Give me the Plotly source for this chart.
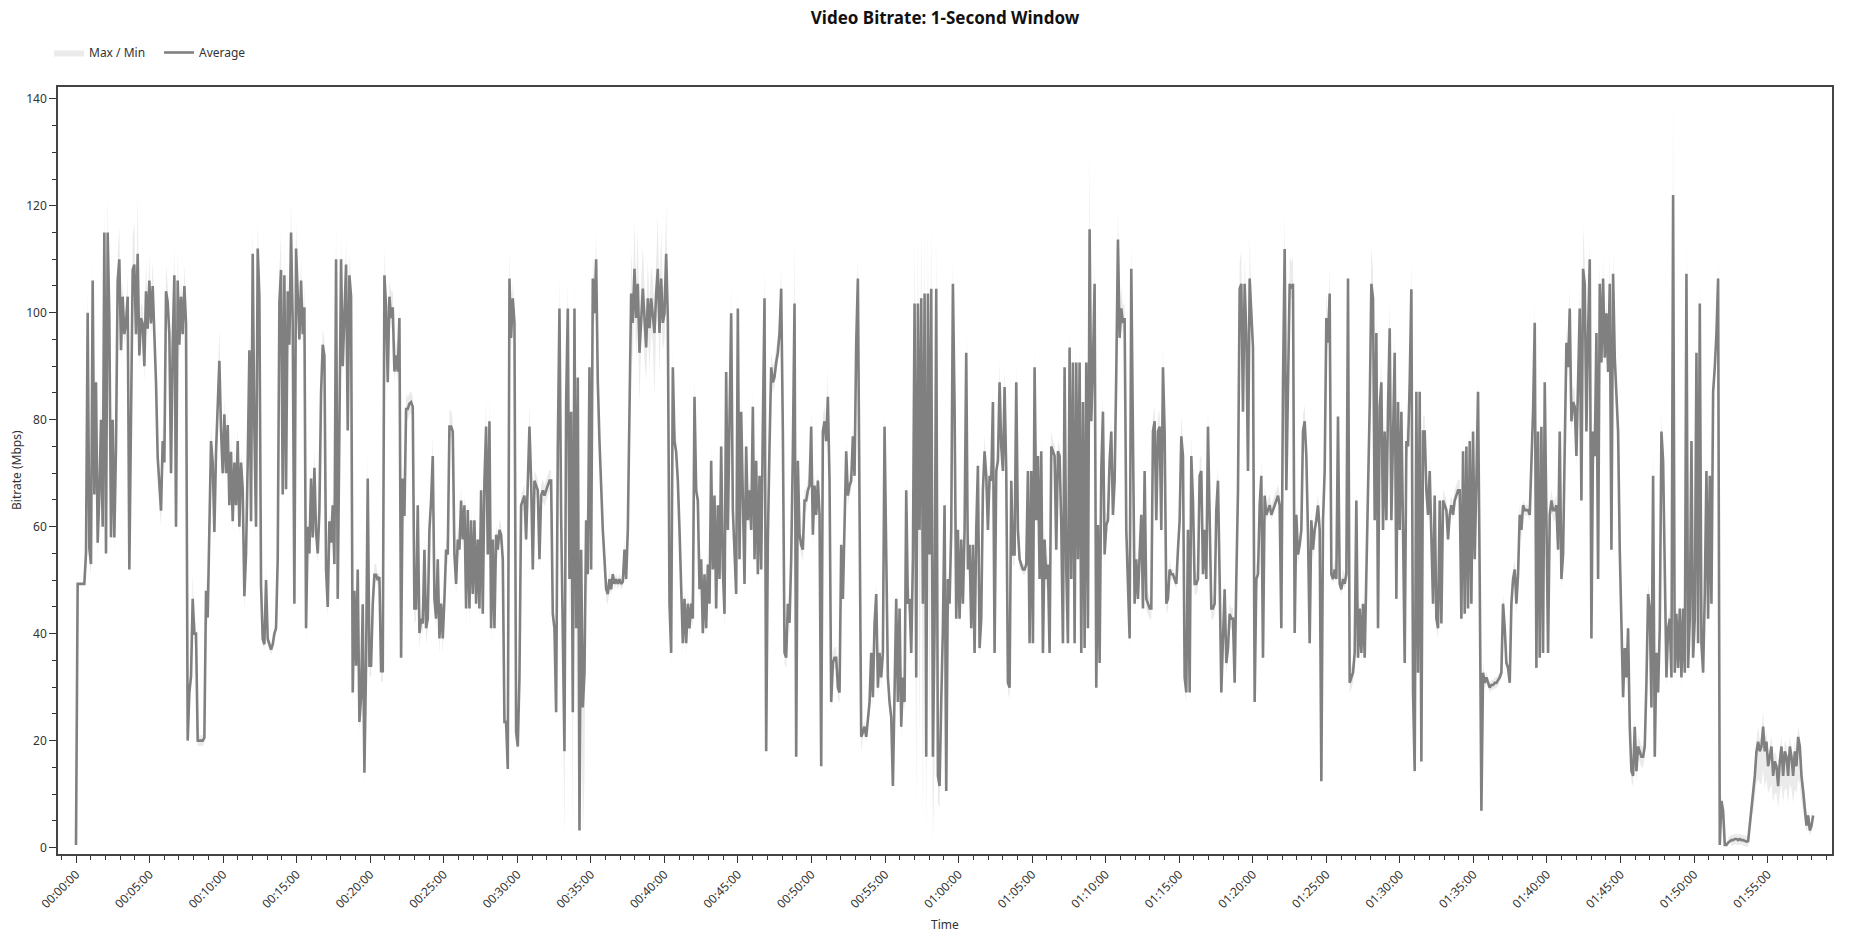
import plotly.graph_objects as go
from datetime import datetime, timedelta

# ---------------- data ----------------
SAMPLE_STEP_S = 6.8  # one reading every ~6.8 seconds

# Average bitrate in Mbps
avg_part1 = [
    0.5, 49.3, 49.3, 49.3, 49.3, 49.3, 55, 100, 56, 53,
    106, 66, 87, 57, 66, 80, 60, 115, 55, 115,
    99, 58, 80, 58, 75, 106, 110, 93, 103, 96,
    98, 103, 52, 80, 108, 109, 96, 111, 92, 99,
    98, 90, 104, 97, 106, 98, 105, 96, 87, 73,
    67, 63, 76, 72, 104, 102, 96, 70, 94, 107,
    60, 106, 94, 103, 96, 105, 98, 20, 29, 32,
    46.5, 40, 40, 20, 20, 20, 20, 20.5, 48, 43,
    57.5, 76, 72, 59, 74, 83, 91, 78, 70, 81,
    70, 79, 64, 74, 61, 72, 64, 76, 60, 72,
    67, 47, 55, 72, 93, 61, 111, 78, 60, 112,
    103, 49, 39, 38, 50, 39, 38, 37, 38, 40,
    41, 54, 102, 108, 66, 107, 67, 104, 94, 115,
    98, 45.6, 112, 103, 95, 106, 96, 101, 41, 60,
    55, 69, 58, 71, 59, 55, 63, 85, 94, 92,
    52, 45, 61, 57, 64, 53, 110, 46.5, 83, 110,
    90, 100, 109, 78, 107, 103, 29, 48, 34, 52,
    23.5, 28, 45.5, 14, 34.5, 69, 34, 34, 45.5, 51,
    51, 50, 50.6, 33, 33, 107, 101, 87, 103, 99,
    101, 89, 92, 89, 99, 35.5, 69, 62, 82, 82,
    83,
]
avg_part2 = [
    83.3, 82.4, 44.7, 44.7, 64, 40.1, 42.8, 41.9, 55.7, 41,
    42.8, 59.4, 64.9, 73.2, 46.5, 42.8, 53.9, 39.1, 45.6, 39.1,
    46.5, 55.7, 54.8, 78.7, 78.7, 77.8, 54.8, 49.3, 57.6, 55.7,
    64.9, 57.6, 64, 44.7, 63.1, 44.7, 61.2, 47.4, 61.2, 45.6,
    57.6, 44.7, 66.8, 43.7, 68.6, 78.7, 54.8, 79.7, 41, 57.6,
    41, 58.5, 55.7, 59.4, 58.5, 53.9, 23.5, 23.5, 14.7, 106.4,
    95.3, 102.7, 98.1, 21.6, 18.9, 31.8, 64, 64.9, 65.8, 57.6,
    68.6, 78.7, 68.6, 52, 68.6, 67.7, 66.8, 53.9, 65.8, 66.8,
    65.8, 66.8, 67.7, 68.6, 68.6, 43.7, 41, 25.3, 75, 100.8,
    62.2, 38.2, 18, 83.3, 100.8, 50.2, 81.5, 25.3, 100.8, 41,
    87.9, 3.2, 55.7, 26.2, 32.7, 61.2, 51.1, 89.8, 52, 106.4,
    99.9, 110, 87, 76, 66.8, 59.4, 53.9, 48.3, 47.4, 50.2,
    48.3, 51.1, 49.3, 50.2, 49.3, 50.2, 49.3, 49.7, 55.7, 50.2,
    59.4, 78.7, 103.6, 98.1, 108.2, 99, 105.4, 92.5, 99.9, 104.5,
    99, 93.5, 102.7, 97.1, 102.7, 99, 96.2, 103.6, 108.2, 96.2,
    106.4, 98.1, 99.9, 111, 99, 45.6, 36.4, 89.8, 76, 74,
    68.6, 59.4, 50.2, 38.2, 46.5, 38.2, 45.6, 41, 45.6, 42.8,
    84.3, 66.8, 64.9, 48.3, 53.9, 40.1, 51.1, 41, 52.9, 45.6,
    72.3, 52, 65.8, 44.7, 64, 50.2, 75, 52, 43.7, 88.9,
    59.4, 79.7, 99.9, 63.1, 53.9, 47.4, 100.8, 53.9, 81.5, 64.9,
    49.3, 75, 61.2, 66.8, 59.4, 82.4, 53.9, 72.3, 51.1, 69.5,
]
avg_part3 = [
    52, 79, 102.7, 18, 57.6, 75, 89.8, 87, 88, 90.7,
    92.5, 96.2, 104.5, 77.8, 36.4, 35.5, 45.6, 42, 53.9, 74.1,
    101.7, 17, 72.3, 58.5, 56.6, 55.7, 64.9, 64.9, 66.8, 67.7,
    78.7, 58.5, 67.7, 62.2, 68.6, 62.2, 15.2, 77.8, 79.7, 76,
    84.3, 68.6, 27.2, 34.5, 35.5, 35.5, 29.9, 29, 56.6, 46.5,
    63.1, 74.1, 65.8, 67.7, 68.6, 76.9, 69.5, 94.4, 106.4, 65.8,
    20.7, 21.6, 22.6, 20.7, 24.4, 27.2, 36.4, 28.1, 41.9, 47.4,
    29.9, 36.4, 31.8, 36.4, 78.7, 52, 31.8, 27.2, 24.4, 11.5,
    31.8, 46.5, 27.2, 44.7, 22.6, 31.8, 27.2, 66.8, 45.6, 46.5,
    36.4, 53.9, 101.7, 31.8, 101.7, 59.4, 102.7, 45.6, 103.6, 17,
    103.6, 54.8, 104.5, 17, 41, 104.5, 13.4, 11.5, 27.2, 41,
    64, 10.6, 50.2, 45.6, 59.4, 105.4, 82.4, 42.8, 59.4, 42.8,
    57.6, 45.6, 59.4, 92.5, 52, 56.6, 41, 56.6, 36.4, 59.4,
    71.4, 37.3, 42.8, 66.8, 74.1, 69.5, 59.4, 69.5, 68.6, 83.3,
    36.4, 70.4, 72.3, 87, 75, 70.4, 86.1, 70.4, 30.8, 29.9,
    68.6, 54.8, 54.8, 87, 59.4, 53.9, 52.9, 52, 52, 52.9,
    70.4, 38.2, 70.4, 38.2, 89.8, 61.2, 73.2, 50.2, 74.1, 36.4,
    57.6, 50.2, 52.9, 36.4, 75, 74.1, 73.2, 55.7, 74.1, 73.2,
    60.3, 38.2, 89.8, 52, 38.2, 93.5, 50.2, 90.7, 38.2, 90.7,
    53.9, 90.7, 36.4, 83.3, 37.3, 90.7, 41, 115.6, 79.7, 90.7,
    105.4, 29.9, 60.3, 34.5, 70.4, 81.5, 54.8, 60.3, 61.2, 72.3,
]
avg_part4 = [
    77.8, 62.2, 68.6, 88.9, 113.7, 95.3, 100.8, 98.1, 99, 59.4,
    50.2, 39.1, 108.2, 82.4, 45.6, 53.9, 46.5, 54.8, 62.2, 44.7,
    70.4, 46.5, 45.6, 44.7, 44.7, 77.8, 79.7, 61.2, 77.8, 78.7,
    59.4, 89.8, 77.8, 45.6, 46.5, 52, 51.1, 51.1, 50.2, 49.3,
    55.7, 61.2, 76.9, 73.2, 31.8, 29, 59.4, 29, 73.2, 64.9,
    49.3, 49.3, 50.2, 69.5, 70.4, 51.1, 59.4, 50.2, 78.7, 57.6,
    44.7, 44.7, 45.6, 63.1, 68.6, 50.2, 29, 39.1, 48.3, 34.5,
    37.3, 43.7, 42.8, 42.8, 30.8, 50.2, 66.8, 104.5, 105.4, 81.5,
    105.4, 96.2, 70.4, 106.4, 98.1, 93.5, 27.2, 50.2, 51.1, 64,
    69.5, 35.5, 65.8, 62.2, 63.1, 64, 62.2, 63.1, 64, 64.9,
    65.8, 64, 41, 87, 111.9, 66.8, 85.2, 105.4, 104.5, 105.4,
    40.1, 62.2, 54.8, 56.6, 59.4, 77.8, 79.7, 73.2, 58.5, 38.2,
    61.2, 55.7, 59.4, 61.2, 64, 59.4, 12.4, 61.2, 70.4, 99,
    94.4, 103.6, 51.1, 50.2, 52, 50.2, 80.6, 49.3, 48.3, 50.2,
    49.3, 51.1, 106.4, 30.8, 31.8, 32.7, 36.4, 64.9, 35.5, 44.7,
    36.4, 45.6, 35.5, 50.2, 67.7, 82.4, 105.4, 102.7, 61.2, 96.2,
    41, 82.4, 87, 59.4, 77.8, 61.2, 82.4, 97.1, 61.2, 78.7,
    92.5, 46.5, 83.3, 59.4, 81.5, 59.4, 34.5, 76, 75, 87,
    104.4, 29, 14.3, 85.2, 32.7, 85.2, 16.1, 77.8, 77.8, 66.8,
    62.2, 70.4, 55.7, 45.6, 65.8, 42.8, 41, 64.9, 41.9, 64.9,
    64, 63.1, 57.6, 62.2, 64, 62.2, 64.9, 65.8, 66.8, 66.8,
]
avg_part5 = [
    42.8, 74.1, 43.7, 75, 44.7, 76, 45.6, 77.8, 53.9, 68.6,
    85.2, 50.2, 6.9, 32.7, 30.8, 31.8, 30.8, 29.9, 30.4, 30.4,
    30.8, 30.8, 31.3, 31.8, 32.7, 45.6, 41, 34.5, 33.6, 30.8,
    45.6, 50.2, 52, 45.6, 51.1, 62.2, 59.4, 64, 63.1, 63.1,
    63.1, 62.2, 73.2, 81.5, 98.1, 33.6, 77.8, 35.5, 78.7, 36.4,
    87, 64, 36.4, 62.2, 64.9, 63.1, 63.1, 64, 55.7, 77.8,
    50.2, 54.8, 77.8, 94.4, 89.8, 100.8, 79.7, 83.3, 82.4, 73.2,
    87, 100.8, 64.9, 108.2, 105.4, 77.8, 96.2, 110, 39.1, 77.8,
    73.2, 96.2, 50.2, 105.4, 90.7, 106.4, 91.6, 99.9, 88.9, 105.4,
    55.7, 107.3, 91.6, 85.2, 77.8, 55.7, 41, 28.1, 37.3, 31.8,
    41, 22.6, 14.3, 13.4, 22.6, 14.3, 18.9, 18, 17, 17,
    18.9, 30.8, 47.4, 44.7, 26.2, 69.5, 17, 36.4, 29, 41,
    77.8, 72.3, 50.2, 31.8, 41, 42.8, 31.8, 122, 32.7, 43.7,
    33.6, 44.7, 31.8, 44.7, 32.7, 107.3, 33.6, 42.8, 76, 35.5,
    42.8, 92.5, 38.2, 101.7, 38.2, 32.7, 47.4, 70.4, 42.8, 69.5,
    45.6, 85.2, 89.8, 96.2, 106.4, 0.5, 8.7, 6.9, 0.5, 0.5,
    0.9, 1.2, 1.4, 1.4, 1.6, 1.6, 1.4, 1.6, 1.4, 1.4,
    1.2, 1.1, 1.2, 4.1, 7.8, 9.7, 13.4, 18, 19.8, 18,
    18.9, 22.6, 18, 19.8, 15.2, 17, 18.9, 13.4, 16.1, 15.2,
    11.5, 16.1, 18.9, 13.4, 18, 17, 13.4, 18.9, 17, 13.4,
    18, 15.2, 20.7, 18.9, 13.4, 10.6, 7.8, 4.1, 6, 3.2,
    4.1, 6,
]

# How far the 1-second Max rises above the Average (Mbps)
max_above_part1 = [
    0, 0, 0, 0, 0, 0, 2, 5, 2, 2,
    4, 3, 4, 2, 3, 5, 2, 5, 2, 7,
    4, 2, 3, 2, 2, 5, 6, 4, 3, 3,
    3, 4, 2, 2, 6, 8, 4, 11, 4, 3,
    3, 3, 6, 3, 5, 3, 5, 3, 3, 3,
    2, 2, 3, 2, 5, 3, 3, 2, 3, 6,
    2, 6, 3, 4, 3, 4, 3, 1, 2, 2,
    5, 2, 2, 1, 1, 1, 1, 1, 3, 2,
    2, 3, 2, 2, 3, 3, 6, 3, 2, 3,
    2, 3, 2, 3, 2, 3, 2, 3, 2, 2,
    2, 2, 2, 3, 4, 2, 6, 3, 2, 5,
    3, 2, 1, 1, 3, 1, 1, 1, 1, 1,
    2, 2, 6, 7, 2, 7, 2, 5, 3, 6,
    3, 2, 5, 4, 3, 4, 3, 4, 2, 2,
    2, 3, 2, 4, 2, 2, 2, 3, 3, 3,
    2, 2, 2, 2, 2, 2, 8, 2, 3, 5,
    3, 3, 5, 3, 4, 3, 2, 2, 2, 2,
    2, 2, 3, 2, 2, 5, 2, 2, 2, 2,
    2, 1, 1, 1, 2, 5, 3, 3, 3, 5,
    3, 3, 3, 3, 3, 2, 3, 2, 3, 2,
    2,
]
max_above_part2 = [
    2, 2, 2, 2, 2, 2, 2, 2, 2, 2,
    2, 2, 2, 4, 2, 2, 2, 2, 2, 2,
    2, 2, 2, 3, 3, 2, 2, 2, 3, 2,
    3, 2, 2, 2, 2, 2, 2, 2, 2, 2,
    2, 2, 3, 2, 3, 5, 2, 5, 2, 2,
    2, 2, 2, 2, 2, 2, 1, 1, 2, 6,
    3, 3, 3, 1, 1, 2, 2, 2, 2, 2,
    2, 4, 2, 2, 2, 2, 2, 2, 2, 2,
    2, 2, 2, 2, 2, 2, 2, 2, 3, 6,
    3, 3, 3, 5, 5, 4, 5, 4, 6, 4,
    4, 2, 3, 3, 3, 3, 3, 4, 3, 5,
    4, 5, 3, 3, 2, 2, 2, 2, 2, 2,
    1, 1, 1, 1, 1, 1, 1, 1, 2, 1,
    2, 3, 8, 6, 9, 6, 10, 5, 6, 8,
    6, 5, 7, 5, 6, 7, 5, 8, 10, 6,
    9, 6, 6, 9, 4, 3, 2, 3, 3, 3,
    2, 2, 2, 2, 2, 2, 2, 2, 2, 2,
    4, 2, 2, 2, 2, 2, 2, 2, 2, 2,
    3, 2, 2, 2, 2, 2, 4, 2, 2, 3,
    2, 3, 5, 2, 2, 2, 5, 2, 3, 2,
    2, 3, 2, 2, 2, 3, 2, 3, 2, 2,
]
max_above_part3 = [
    2, 3, 6, 2, 2, 3, 3, 3, 3, 3,
    3, 3, 4, 3, 2, 2, 2, 2, 2, 3,
    13, 2, 3, 2, 2, 2, 2, 2, 2, 2,
    3, 2, 2, 2, 2, 2, 2, 3, 3, 2,
    5, 2, 2, 2, 2, 2, 2, 2, 2, 2,
    2, 2, 2, 2, 2, 2, 2, 5, 4, 2,
    2, 1, 1, 1, 1, 2, 2, 2, 2, 2,
    2, 2, 2, 2, 3, 2, 2, 2, 2, 2,
    2, 2, 2, 2, 2, 2, 2, 3, 2, 2,
    2, 5, 14, 6, 13, 10, 14, 10, 12, 6,
    12, 8, 13, 5, 8, 10, 3, 3, 3, 3,
    3, 2, 2, 2, 2, 5, 3, 2, 2, 2,
    2, 2, 2, 4, 2, 2, 2, 2, 2, 2,
    3, 2, 2, 2, 3, 2, 2, 2, 2, 3,
    2, 2, 2, 4, 2, 2, 4, 2, 2, 2,
    2, 2, 2, 4, 2, 2, 1, 1, 1, 1,
    2, 2, 2, 2, 4, 2, 3, 2, 3, 2,
    2, 2, 2, 2, 3, 2, 2, 2, 2, 2,
    2, 2, 3, 2, 2, 4, 2, 3, 2, 3,
    2, 3, 2, 3, 2, 3, 2, 15, 3, 3,
    5, 2, 2, 2, 2, 3, 2, 2, 2, 2,
]
max_above_part4 = [
    2, 2, 2, 3, 6, 3, 4, 3, 3, 2,
    2, 2, 6, 3, 2, 2, 2, 2, 2, 2,
    2, 2, 2, 2, 2, 3, 3, 2, 3, 3,
    2, 4, 3, 2, 2, 2, 1, 1, 1, 1,
    2, 2, 4, 3, 2, 2, 2, 2, 4, 2,
    2, 2, 2, 3, 3, 2, 2, 2, 4, 2,
    2, 2, 2, 2, 3, 2, 2, 2, 2, 2,
    2, 2, 2, 2, 2, 2, 2, 5, 6, 3,
    5, 4, 3, 8, 4, 3, 2, 3, 2, 2,
    3, 2, 2, 2, 2, 2, 2, 2, 2, 2,
    2, 2, 2, 4, 7, 3, 3, 5, 5, 5,
    2, 2, 2, 2, 2, 3, 3, 3, 2, 2,
    2, 2, 2, 2, 2, 2, 2, 2, 3, 5,
    4, 5, 2, 2, 2, 2, 3, 2, 2, 2,
    2, 2, 3, 2, 2, 2, 2, 2, 2, 2,
    2, 2, 2, 2, 3, 3, 7, 5, 2, 4,
    2, 3, 4, 2, 3, 2, 3, 5, 2, 3,
    4, 2, 3, 2, 3, 2, 2, 3, 3, 4,
    6, 2, 2, 3, 2, 3, 2, 3, 3, 2,
    2, 3, 2, 2, 2, 2, 2, 2, 2, 2,
    2, 2, 2, 2, 2, 2, 2, 2, 2, 2,
]
max_above_part5 = [
    2, 3, 2, 3, 2, 3, 2, 3, 2, 2,
    3, 2, 2, 2, 1, 1, 1, 1, 1, 1,
    1, 1, 1, 1, 1, 2, 2, 1, 1, 1,
    2, 2, 2, 2, 2, 2, 2, 1, 1, 1,
    1, 1, 2, 2, 4, 2, 2, 2, 2, 2,
    3, 2, 2, 2, 2, 2, 2, 2, 2, 2,
    2, 2, 2, 3, 3, 4, 3, 3, 3, 2,
    3, 4, 2, 8, 4, 3, 3, 4, 2, 2,
    2, 3, 2, 4, 3, 4, 3, 3, 3, 6,
    2, 5, 3, 3, 3, 2, 2, 2, 2, 2,
    2, 2, 2, 2, 2, 2, 2, 2, 2, 2,
    2, 2, 2, 2, 2, 6, 2, 2, 2, 2,
    3, 2, 2, 2, 2, 2, 2, 19, 2, 2,
    2, 2, 2, 2, 2, 7, 2, 2, 2, 2,
    2, 3, 2, 6, 2, 2, 2, 2, 2, 2,
    2, 3, 3, 3, 3, 0, 1, 1, 0, 0,
    1, 1, 1, 1, 1, 1, 1, 1, 1, 1,
    1, 1, 1, 1, 1, 1, 1, 2, 3, 2,
    2, 3, 2, 2, 2, 2, 2, 2, 2, 2,
    2, 2, 2, 2, 2, 2, 2, 2, 2, 2,
    2, 2, 2, 2, 2, 2, 2, 1, 1, 1,
    1, 1,
]

# How far the 1-second Min falls below the Average (Mbps)
min_below_part1 = [
    0, 0, 0, 0, 0, 0, 2, 3, 3, 2,
    2, 2, 3, 3, 2, 2, 2, 3, 3, 2,
    2, 3, 2, 3, 2, 2, 2, 3, 2, 2,
    2, 2, 3, 2, 2, 2, 3, 2, 3, 2,
    2, 3, 2, 2, 2, 3, 2, 3, 3, 3,
    3, 3, 2, 2, 2, 2, 3, 3, 2, 2,
    3, 2, 3, 2, 2, 2, 2, 1, 2, 2,
    2, 2, 2, 1, 1, 1, 1, 1, 2, 2,
    4, 2, 2, 3, 2, 2, 2, 3, 2, 2,
    2, 2, 2, 2, 2, 2, 2, 2, 2, 2,
    2, 3, 2, 2, 2, 3, 2, 2, 3, 2,
    2, 2, 1, 1, 2, 1, 1, 1, 1, 1,
    1, 2, 2, 2, 3, 2, 3, 2, 2, 2,
    2, 2, 2, 2, 2, 2, 2, 2, 3, 2,
    2, 2, 2, 2, 2, 2, 2, 2, 2, 2,
    2, 2, 2, 2, 2, 2, 2, 3, 2, 2,
    2, 2, 2, 2, 2, 2, 3, 2, 2, 2,
    2, 2, 2, 3, 2, 2, 2, 2, 2, 2,
    1, 1, 1, 2, 2, 2, 2, 2, 2, 2,
    2, 2, 2, 2, 2, 2, 2, 2, 2, 2,
    2,
]
min_below_part2 = [
    2, 2, 3, 2, 2, 3, 2, 2, 2, 3,
    2, 2, 2, 2, 2, 2, 2, 3, 2, 3,
    2, 2, 2, 2, 2, 2, 2, 2, 2, 2,
    2, 2, 2, 3, 2, 3, 2, 2, 2, 2,
    2, 2, 2, 2, 2, 2, 2, 2, 3, 2,
    2, 2, 2, 2, 2, 2, 1, 1, 2, 2,
    2, 2, 2, 1, 1, 2, 2, 2, 2, 2,
    2, 2, 2, 2, 2, 2, 2, 2, 2, 2,
    2, 2, 2, 2, 2, 2, 2, 2, 2, 3,
    5, 8, 17, 10, 5, 12, 8, 25, 6, 20,
    8, 3, 15, 24, 20, 6, 4, 3, 4, 3,
    2, 2, 2, 2, 2, 2, 2, 2, 2, 2,
    1, 1, 1, 1, 1, 1, 1, 1, 1, 1,
    2, 3, 4, 8, 5, 8, 6, 10, 5, 6,
    8, 6, 6, 8, 6, 5, 12, 6, 5, 8,
    6, 5, 5, 6, 4, 2, 2, 3, 2, 2,
    2, 2, 2, 2, 2, 2, 2, 2, 2, 2,
    2, 2, 2, 2, 2, 2, 2, 2, 2, 2,
    2, 2, 2, 2, 2, 2, 2, 2, 3, 2,
    2, 2, 2, 2, 2, 2, 2, 2, 2, 2,
    2, 2, 2, 2, 2, 2, 2, 2, 2, 2,
]
min_below_part3 = [
    2, 2, 2, 2, 2, 2, 2, 2, 2, 2,
    2, 2, 2, 2, 2, 2, 2, 2, 2, 2,
    2, 2, 2, 2, 2, 2, 2, 2, 2, 2,
    2, 2, 2, 2, 2, 2, 2, 2, 2, 2,
    2, 2, 2, 2, 2, 2, 2, 2, 2, 2,
    2, 2, 2, 2, 2, 2, 2, 2, 2, 2,
    3, 1, 1, 1, 1, 2, 2, 2, 2, 2,
    2, 2, 2, 2, 2, 2, 2, 2, 2, 2,
    2, 2, 2, 2, 2, 2, 2, 2, 2, 2,
    2, 5, 20, 25, 20, 40, 30, 40, 30, 15,
    30, 35, 40, 16, 25, 20, 5, 4, 4, 4,
    2, 2, 2, 2, 2, 2, 2, 2, 2, 2,
    2, 2, 2, 2, 2, 2, 2, 2, 2, 2,
    2, 2, 2, 2, 2, 2, 2, 2, 2, 2,
    2, 2, 2, 2, 2, 2, 2, 2, 2, 2,
    2, 2, 2, 2, 2, 2, 1, 1, 1, 1,
    2, 2, 2, 2, 2, 2, 2, 2, 2, 2,
    2, 2, 2, 2, 2, 2, 2, 2, 2, 2,
    2, 2, 2, 2, 2, 2, 2, 2, 2, 2,
    2, 2, 2, 2, 2, 2, 2, 2, 2, 2,
    2, 2, 2, 2, 2, 2, 2, 2, 2, 2,
]
min_below_part4 = [
    2, 2, 2, 2, 2, 2, 2, 2, 2, 2,
    2, 2, 2, 2, 2, 2, 2, 2, 2, 2,
    2, 2, 2, 2, 2, 2, 2, 2, 2, 2,
    2, 2, 2, 2, 2, 2, 1, 1, 1, 1,
    2, 2, 2, 2, 2, 2, 2, 2, 2, 2,
    2, 2, 2, 2, 2, 2, 2, 2, 2, 2,
    2, 2, 2, 2, 2, 2, 2, 2, 2, 2,
    2, 2, 2, 2, 2, 2, 2, 2, 2, 2,
    2, 2, 2, 2, 2, 2, 2, 2, 2, 2,
    2, 2, 1, 1, 1, 1, 1, 1, 1, 1,
    1, 2, 2, 2, 2, 2, 2, 2, 2, 2,
    2, 2, 2, 2, 2, 2, 2, 2, 2, 2,
    2, 2, 2, 2, 2, 2, 2, 2, 2, 2,
    2, 2, 1, 1, 1, 1, 2, 1, 1, 1,
    1, 1, 2, 2, 2, 2, 2, 2, 2, 2,
    2, 2, 2, 2, 2, 2, 2, 2, 2, 2,
    2, 2, 2, 2, 2, 2, 2, 2, 2, 2,
    2, 2, 2, 2, 2, 2, 2, 2, 2, 2,
    2, 2, 2, 2, 2, 2, 2, 2, 2, 2,
    2, 2, 2, 2, 2, 2, 2, 2, 2, 2,
    1, 1, 1, 1, 1, 1, 1, 1, 1, 1,
]
min_below_part5 = [
    2, 2, 2, 2, 2, 2, 2, 2, 2, 2,
    2, 2, 2, 1, 1, 1, 1, 1, 1, 1,
    1, 1, 1, 1, 1, 2, 2, 1, 1, 1,
    2, 2, 2, 2, 2, 2, 2, 1, 1, 1,
    1, 1, 2, 2, 2, 2, 2, 2, 2, 2,
    2, 2, 2, 2, 2, 2, 2, 2, 2, 2,
    2, 2, 2, 2, 2, 2, 2, 2, 2, 2,
    2, 2, 2, 2, 2, 2, 2, 2, 2, 2,
    2, 2, 2, 2, 2, 2, 2, 2, 2, 2,
    2, 2, 2, 2, 2, 2, 2, 2, 2, 2,
    2, 2, 2, 2, 2, 2, 2, 2, 2, 2,
    2, 2, 2, 2, 2, 2, 2, 2, 2, 2,
    2, 2, 2, 2, 2, 2, 2, 2, 2, 2,
    2, 2, 2, 2, 2, 2, 2, 2, 2, 2,
    2, 2, 2, 2, 2, 2, 2, 2, 2, 2,
    2, 2, 2, 2, 2, 0, 1, 1, 0, 0,
    0, 0, 1, 1, 1, 1, 1, 1, 1, 1,
    1, 1, 1, 1, 2, 3, 4, 6, 7, 6,
    7, 8, 7, 7, 5, 6, 7, 5, 6, 5,
    4, 6, 7, 5, 7, 6, 5, 7, 6, 5,
    7, 5, 8, 7, 5, 4, 3, 1, 2, 1,
    1, 2,
]

# ---------------- assemble series ----------------
avg = avg_part1 + avg_part2 + avg_part3 + avg_part4 + avg_part5
max_above = max_above_part1 + max_above_part2 + max_above_part3 + max_above_part4 + max_above_part5
min_below = min_below_part1 + min_below_part2 + min_below_part3 + min_below_part4 + min_below_part5
n = min(len(avg), len(max_above), len(min_below))
avg = avg[:n]
max_vals = [a + e for a, e in zip(avg, max_above[:n])]
min_vals = [max(0.0, a - d) for a, d in zip(avg, min_below[:n])]

base = datetime(1970, 1, 1)
times = [base + timedelta(seconds=i * SAMPLE_STEP_S) for i in range(n)]

# ---------------- figure ----------------
FONT = "Segoe UI, Noto Sans, Open Sans, sans-serif"
W, H = 1853, 936
ML, MR, MT, MB = 58, 21, 87, 82
plot_h = H - MT - MB
plot_w = W - ML - MR

fig = go.Figure()
fig.add_trace(go.Scatter(
    x=times + times[::-1],
    y=max_vals + min_vals[::-1],
    fill="toself",
    fillcolor="#ebebeb",
    line=dict(width=0, color="#ebebeb"),
    mode="lines",
    name="Max / Min",
    hoverinfo="skip",
))
fig.add_trace(go.Scatter(
    x=times, y=avg,
    mode="lines",
    line=dict(color="#808080", width=2.6),
    name="Average",
))

axis_common = dict(
    showline=True, linecolor="#444", linewidth=1.5, mirror=True,
    ticks="outside", tickcolor="#333", ticklen=7, tickwidth=1,
    showgrid=False, zeroline=False,
    tickfont=dict(family=FONT, size=12, color="#333"),
)

fig.update_layout(
    width=W, height=H,
    autosize=False,
    paper_bgcolor="white", plot_bgcolor="white",
    margin=dict(l=ML, r=MR, t=MT, b=MB, pad=0),
    font=dict(family=FONT, size=12, color="#333"),
    title=dict(
        text="<b>Video Bitrate: 1-Second Window</b>",
        font=dict(family=FONT, size=17, color="#111"),
        x=(ML + plot_w / 2) / W, xanchor="center",
        y=1 - 18.5 / H, yanchor="middle", yref="container",
    ),
    showlegend=True,
    legend=dict(
        orientation="h",
        x=(49 - ML) / plot_w, xanchor="left",
        y=1 + (MT - 38) / plot_h, yanchor="top",
        font=dict(family=FONT, size=12, color="#333"),
        entrywidth=65, entrywidthmode="pixels",
        bgcolor="rgba(0,0,0,0)",
    ),
    xaxis=dict(
        **axis_common,
        type="date",
        range=[base - timedelta(seconds=73.4), base + timedelta(seconds=7162.5)],
        tick0=base, dtick=300000, tickformat="%H:%M:%S", tickangle=-45,
        minor=dict(dtick=60000, ticks="outside", ticklen=4, tickcolor="#333"),
    ),
    yaxis=dict(
        **axis_common,
        range=[-1.2, 142.2],
        tick0=0, dtick=20,
        minor=dict(dtick=5, ticks="outside", ticklen=4, tickcolor="#333"),
    ),
    annotations=[
        dict(text="Bitrate (Mbps)", textangle=-90, xref="paper", yref="paper",
             x=(16.5 - ML) / plot_w, y=0.5, xanchor="center", yanchor="middle",
             showarrow=False, font=dict(family=FONT, size=12, color="#333")),
        dict(text="Time", xref="paper", yref="paper",
             x=0.5, y=-(924 - (H - MB)) / plot_h, xanchor="center", yanchor="middle",
             showarrow=False, font=dict(family=FONT, size=12, color="#333")),
    ],
)

# The page's default 8px body margin would push the fixed-size figure off the window.
fig.write_html(
    "out.html",
    config={"displayModeBar": False},
    post_script="document.body.style.margin='0';document.body.style.overflow='hidden';",
)
